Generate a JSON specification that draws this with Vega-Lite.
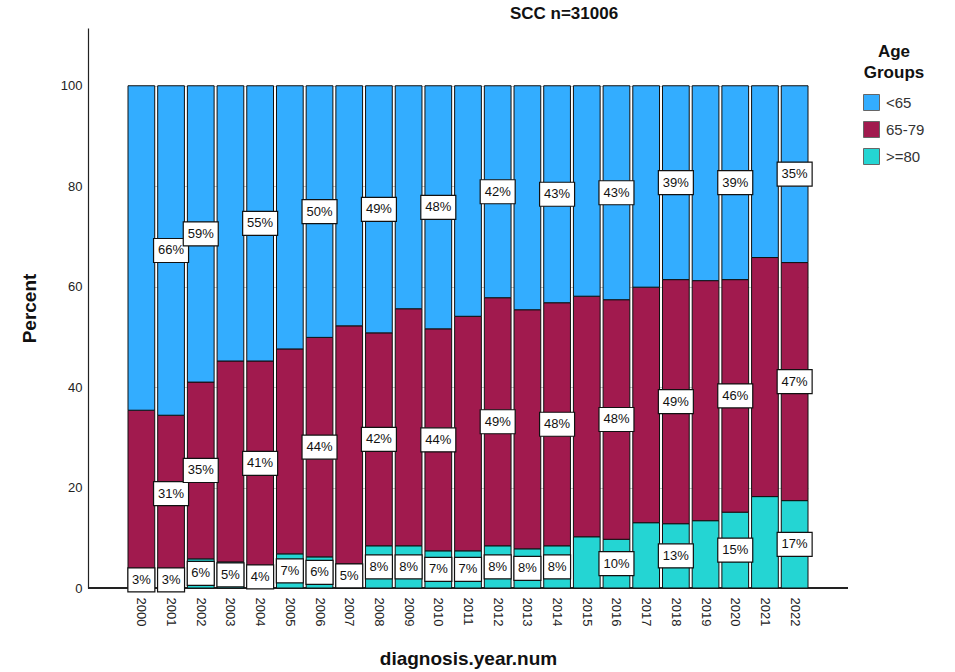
{
  "$schema": "https://vega.github.io/schema/vega-lite/v6.json",
  "autosize": {"type": "none"},
  "padding": {"left": 88, "top": 28, "right": 107, "bottom": 84},
  "width": 760,
  "height": 560,
  "background": "white",
  "config": {
    "font": "Liberation Sans",
    "view": {"stroke": null},
    "axis": {"labelFont": "Liberation Sans", "titleFont": "Liberation Sans", "labelColor": "#222", "titleColor": "#111"}
  },
  "title": {"text": "SCC n=31006", "fontSize": 17, "fontWeight": "bold", "anchor": "middle", "frame": "group", "dx": 96, "offset": 5, "color": "#111"},
  "data": {"values": [
    {"year": "2000", "group": ">=80", "pct": 3.2, "label": "3%"},
    {"year": "2000", "group": "65-79", "pct": 32.2, "label": ""},
    {"year": "2000", "group": "<65", "pct": 64.6, "label": ""},
    {"year": "2001", "group": ">=80", "pct": 3.2, "label": "3%"},
    {"year": "2001", "group": "65-79", "pct": 31.2, "label": "31%"},
    {"year": "2001", "group": "<65", "pct": 65.6, "label": "66%"},
    {"year": "2002", "group": ">=80", "pct": 5.8, "label": "6%"},
    {"year": "2002", "group": "65-79", "pct": 35.2, "label": "35%"},
    {"year": "2002", "group": "<65", "pct": 59.0, "label": "59%"},
    {"year": "2003", "group": ">=80", "pct": 5.2, "label": "5%"},
    {"year": "2003", "group": "65-79", "pct": 40.0, "label": ""},
    {"year": "2003", "group": "<65", "pct": 54.8, "label": ""},
    {"year": "2004", "group": ">=80", "pct": 4.4, "label": "4%"},
    {"year": "2004", "group": "65-79", "pct": 40.8, "label": "41%"},
    {"year": "2004", "group": "<65", "pct": 54.8, "label": "55%"},
    {"year": "2005", "group": ">=80", "pct": 6.8, "label": "7%"},
    {"year": "2005", "group": "65-79", "pct": 40.8, "label": ""},
    {"year": "2005", "group": "<65", "pct": 52.4, "label": ""},
    {"year": "2006", "group": ">=80", "pct": 6.2, "label": "6%"},
    {"year": "2006", "group": "65-79", "pct": 43.7, "label": "44%"},
    {"year": "2006", "group": "<65", "pct": 50.1, "label": "50%"},
    {"year": "2007", "group": ">=80", "pct": 4.8, "label": "5%"},
    {"year": "2007", "group": "65-79", "pct": 47.4, "label": ""},
    {"year": "2007", "group": "<65", "pct": 47.8, "label": ""},
    {"year": "2008", "group": ">=80", "pct": 8.4, "label": "8%"},
    {"year": "2008", "group": "65-79", "pct": 42.4, "label": "42%"},
    {"year": "2008", "group": "<65", "pct": 49.2, "label": "49%"},
    {"year": "2009", "group": ">=80", "pct": 8.4, "label": "8%"},
    {"year": "2009", "group": "65-79", "pct": 47.2, "label": ""},
    {"year": "2009", "group": "<65", "pct": 44.4, "label": ""},
    {"year": "2010", "group": ">=80", "pct": 7.4, "label": "7%"},
    {"year": "2010", "group": "65-79", "pct": 44.2, "label": "44%"},
    {"year": "2010", "group": "<65", "pct": 48.4, "label": "48%"},
    {"year": "2011", "group": ">=80", "pct": 7.4, "label": "7%"},
    {"year": "2011", "group": "65-79", "pct": 46.7, "label": ""},
    {"year": "2011", "group": "<65", "pct": 45.9, "label": ""},
    {"year": "2012", "group": ">=80", "pct": 8.4, "label": "8%"},
    {"year": "2012", "group": "65-79", "pct": 49.4, "label": "49%"},
    {"year": "2012", "group": "<65", "pct": 42.2, "label": "42%"},
    {"year": "2013", "group": ">=80", "pct": 7.8, "label": "8%"},
    {"year": "2013", "group": "65-79", "pct": 47.6, "label": ""},
    {"year": "2013", "group": "<65", "pct": 44.6, "label": ""},
    {"year": "2014", "group": ">=80", "pct": 8.4, "label": "8%"},
    {"year": "2014", "group": "65-79", "pct": 48.4, "label": "48%"},
    {"year": "2014", "group": "<65", "pct": 43.2, "label": "43%"},
    {"year": "2015", "group": ">=80", "pct": 10.2, "label": ""},
    {"year": "2015", "group": "65-79", "pct": 47.9, "label": ""},
    {"year": "2015", "group": "<65", "pct": 41.9, "label": ""},
    {"year": "2016", "group": ">=80", "pct": 9.7, "label": "10%"},
    {"year": "2016", "group": "65-79", "pct": 47.7, "label": "48%"},
    {"year": "2016", "group": "<65", "pct": 42.6, "label": "43%"},
    {"year": "2017", "group": ">=80", "pct": 13.0, "label": ""},
    {"year": "2017", "group": "65-79", "pct": 46.9, "label": ""},
    {"year": "2017", "group": "<65", "pct": 40.1, "label": ""},
    {"year": "2018", "group": ">=80", "pct": 12.8, "label": "13%"},
    {"year": "2018", "group": "65-79", "pct": 48.6, "label": "49%"},
    {"year": "2018", "group": "<65", "pct": 38.6, "label": "39%"},
    {"year": "2019", "group": ">=80", "pct": 13.4, "label": ""},
    {"year": "2019", "group": "65-79", "pct": 47.8, "label": ""},
    {"year": "2019", "group": "<65", "pct": 38.8, "label": ""},
    {"year": "2020", "group": ">=80", "pct": 15.1, "label": "15%"},
    {"year": "2020", "group": "65-79", "pct": 46.3, "label": "46%"},
    {"year": "2020", "group": "<65", "pct": 38.6, "label": "39%"},
    {"year": "2021", "group": ">=80", "pct": 18.2, "label": ""},
    {"year": "2021", "group": "65-79", "pct": 47.6, "label": ""},
    {"year": "2021", "group": "<65", "pct": 34.2, "label": ""},
    {"year": "2022", "group": ">=80", "pct": 17.4, "label": "17%"},
    {"year": "2022", "group": "65-79", "pct": 47.4, "label": "47%"},
    {"year": "2022", "group": "<65", "pct": 35.2, "label": "35%"}
  ]},
  "transform": [
    {"calculate": "indexof(['>=80','65-79','<65'], datum.group)", "as": "ord"},
    {"stack": "pct", "groupby": ["year"], "sort": [{"field": "ord", "order": "ascending"}], "as": ["y0", "y1"]},
    {"calculate": "(datum.y0 + datum.y1) / 2", "as": "mid"}
  ],
  "layer": [
    {
      "mark": {"type": "rule", "color": "#222", "strokeWidth": 1.2},
      "encoding": {"y": {"datum": 0, "type": "quantitative"}}
    },
    {
      "mark": {"type": "bar", "stroke": "#111", "strokeWidth": 1},
      "encoding": {
        "x": {
          "field": "year", "type": "nominal",
          "scale": {"range": [40, 720], "paddingInner": 0.1, "paddingOuter": 0},
          "axis": {"title": "diagnosis.year.num", "titleFontSize": 19, "titleFontWeight": "bold", "titlePadding": 24, "labelAngle": 90, "labelAlign": "left", "labelBaseline": "middle", "labelFontSize": 13, "labelPadding": 9, "ticks": false, "domain": false}
        },
        "y": {
          "field": "y0", "type": "quantitative",
          "scale": {"domain": [0, 111.5], "nice": false},
          "axis": {"title": "Percent", "titleFontSize": 19, "titleFontWeight": "bold", "titlePadding": 21, "values": [0, 20, 40, 60, 80, 100], "labelFontSize": 13, "labelPadding": 6, "ticks": false, "grid": true, "gridColor": "#c8c8c8", "gridWidth": 1, "domainColor": "#222", "domainWidth": 1.2}
        },
        "y2": {"field": "y1"},
        "color": {
          "field": "group", "type": "nominal",
          "scale": {"domain": ["<65", "65-79", ">=80"], "range": ["#33adff", "#a11a4e", "#24d5d3"]},
          "legend": {
            "title": ["Age", "Groups"], "orient": "none", "legendX": 775, "legendY": 16,
            "titleFontSize": 17, "titleFontWeight": "bold", "titleLineHeight": 21, "titleAnchor": "middle", "titleAlign": "center", "titlePadding": 12, "titleColor": "#111",
            "labelFontSize": 15, "labelColor": "#333", "labelOffset": 6,
            "symbolType": "square", "symbolSize": 256, "symbolStrokeColor": "#666", "symbolStrokeWidth": 1, "symbolOpacity": 1, "rowPadding": 6
          }
        }
      }
    },
    {
      "transform": [{"filter": "datum.label != ''"}],
      "mark": {"type": "point", "filled": true, "fill": "white", "stroke": "#111", "strokeWidth": 1.2, "opacity": 1, "size": 1225},
      "encoding": {
        "x": {"field": "year", "type": "nominal"},
        "y": {"field": "mid", "type": "quantitative"},
        "shape": {"condition": {"test": "length(datum.label) < 3", "value": "M-0.771,-0.686H0.771V0.686H-0.771Z"}, "value": "M-1,-0.686H1V0.686H-1Z"}
      }
    },
    {
      "transform": [{"filter": "datum.label != ''"}],
      "mark": {"type": "text", "fontSize": 13, "color": "#111", "align": "center", "baseline": "middle", "font": "Liberation Sans"},
      "encoding": {
        "x": {"field": "year", "type": "nominal"},
        "y": {"field": "mid", "type": "quantitative"},
        "text": {"field": "label"}
      }
    }
  ]
}
